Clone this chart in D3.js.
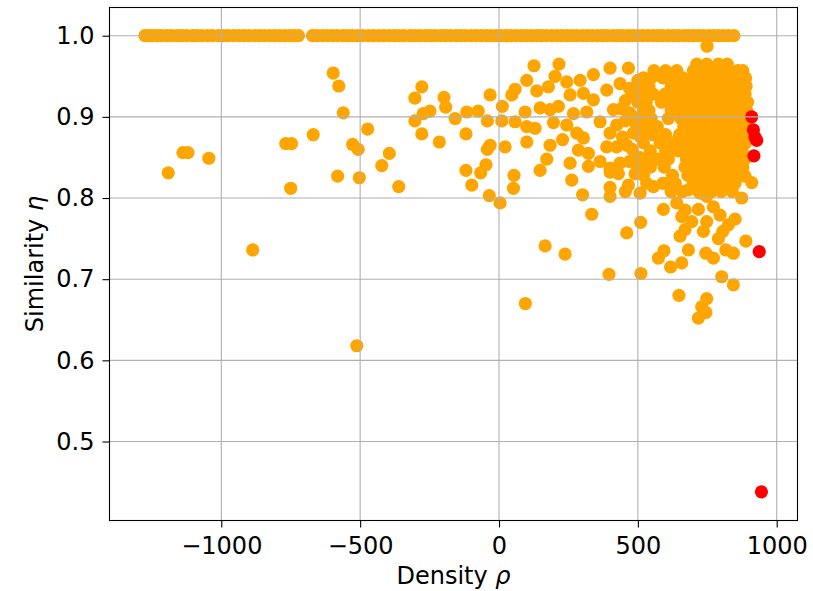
<!DOCTYPE html>
<html>
<head>
<meta charset="utf-8">
<script src="https://cdn.jsdelivr.net/npm/d3@7/dist/d3.min.js"></script>
<style>
  body { margin: 0; background: #fff; }
  text { font-family: "DejaVu Sans", sans-serif; }
</style>
</head>
<body>
<div id="chart"></div>
<script>
// tick values
var xTicks = [-1000, -500, 0, 500, 1000];
var yTicks = [0.5, 0.6, 0.7, 0.8, 0.9, 1.0];

// points sitting exactly on similarity 1.0 (density only)
var topRowRho = [-1275, -1262, -1248, -1230, -1215, -1196, -1180, -1160, -1142, -1125, -1104, -1088,
  -1070, -1050, -1032, -1010, -992, -975, -955, -936, -918, -900, -880, -862, -845, -826, -808, -790,
  -772, -755, -738, -722, -672, -655, -636, -618, -600, -582, -562, -545, -528, -510, -492, -470, -452,
  -432, -415, -396, -378, -360, -342, -320, -302, -285, -266, -248, -230, -210, -192, -175, -155, -138,
  -120, -100, -82, -64, -45, -28, -10, 8, 26, 45, 62, 80, 98, 117, 135, 152, 170, 190, 208, 226, 245,
  262, 280, 300, 318, 336, 355, 372, 390, 410, 428, 446, 465, 482, 500, 518, 536, 555, 572, 590, 610,
  628, 646, 665, 682, 700, 718, 736, 755, 772, 790, 808, 826, 846];

// scattered points [density, similarity]
var orangePts = [
  [-597, 0.954], [-577, 0.938], [-561, 0.905], [-473, 0.885], [-669, 0.878], [-768, 0.867], [-747, 0.867],
  [-527, 0.866], [-507, 0.860], [-395, 0.855], [-422, 0.840], [-1138, 0.856], [-1120, 0.856], [-1045, 0.849],
  [-1191, 0.831], [-581, 0.827], [-503, 0.825], [-750, 0.812], [-361, 0.814], [-887, 0.736], [-512, 0.618],
  [749, 0.987],
  [-278, 0.937], [-303, 0.923], [-198, 0.924], [-192, 0.912], [-249, 0.907], [-273, 0.904], [-303, 0.895],
  [-158, 0.898], [-116, 0.906], [-75, 0.907], [-32, 0.927], [-42, 0.895], [12, 0.913], [10, 0.895],
  [-278, 0.879], [-215, 0.869], [-119, 0.879], [-32, 0.865], [-42, 0.860], [22, 0.863], [-119, 0.834],
  [-47, 0.841], [-66, 0.831], [-98, 0.816], [-35, 0.803], [4, 0.794], [54, 0.828], [52, 0.812],
  [46, 0.927], [58, 0.934], [100, 0.945], [126, 0.963], [216, 0.965], [136, 0.932], [178, 0.937],
  [202, 0.950], [244, 0.943], [292, 0.945], [340, 0.952], [400, 0.960], [466, 0.960], [94, 0.906],
  [58, 0.894], [100, 0.888], [130, 0.886], [100, 0.869], [148, 0.911], [184, 0.909], [214, 0.913],
  [196, 0.893], [244, 0.890], [184, 0.865], [229, 0.872], [172, 0.848], [148, 0.834], [256, 0.843],
  [262, 0.822], [301, 0.804], [334, 0.780], [460, 0.757], [400, 0.813], [400, 0.802], [466, 0.816],
  [322, 0.839], [364, 0.845], [400, 0.837], [436, 0.843], [388, 0.863], [424, 0.863], [460, 0.865],
  [286, 0.859], [322, 0.855], [280, 0.880], [304, 0.874], [268, 0.904], [316, 0.906], [256, 0.927],
  [304, 0.929], [340, 0.921], [364, 0.894], [400, 0.880], [424, 0.890], [412, 0.909], [388, 0.933],
  [436, 0.941], [478, 0.929], [484, 0.900], [484, 0.880],
  [500, 0.945], [470, 0.935], [455, 0.920], [470, 0.905], [445, 0.875], [480, 0.860], [505, 0.850],
  [470, 0.845], [490, 0.830], [430, 0.830], [455, 0.808], [520, 0.885], [495, 0.890], [455, 0.895],
  [440, 0.910], [510, 0.875],
  [166, 0.741], [238, 0.731], [95, 0.670],
  [400, 0.832], [508, 0.806], [592, 0.786], [510, 0.770], [396, 0.706], [511, 0.707], [648, 0.680],
  [574, 0.726], [594, 0.735], [618, 0.715], [658, 0.720], [682, 0.736], [652, 0.753], [670, 0.761],
  [694, 0.771], [658, 0.777], [670, 0.785], [718, 0.786], [748, 0.771], [736, 0.759], [745, 0.732],
  [772, 0.726], [748, 0.676], [730, 0.666], [745, 0.659], [718, 0.652], [802, 0.703], [844, 0.693],
  [817, 0.736], [844, 0.732], [790, 0.750], [806, 0.759], [826, 0.767], [850, 0.774], [796, 0.779],
  [772, 0.789], [889, 0.747], [874, 0.800], [808, 0.812], [910, 0.819], [886, 0.827], [640, 0.794],
  [682, 0.810], [724, 0.806], [748, 0.802], [532, 0.818], [556, 0.814], [604, 0.818], [880, 0.828],
  // dense cluster
  [712, 0.965], [748, 0.965], [790, 0.965], [822, 0.965],
  [558, 0.957], [600, 0.957], [640, 0.957], [700, 0.957], [742, 0.957], [782, 0.957], [820, 0.957], [860, 0.957], [878, 0.957],
  [520, 0.948], [548, 0.948], [590, 0.948], [625, 0.948], [662, 0.948], [700, 0.948], [735, 0.948], [770, 0.948], [805, 0.948], [840, 0.948], [872, 0.948], [888, 0.948],
  [505, 0.938], [540, 0.938], [620, 0.938], [655, 0.938], [690, 0.938], [728, 0.938], [762, 0.938], [800, 0.938], [838, 0.938], [870, 0.938], [890, 0.938],
  [512, 0.928], [555, 0.928], [598, 0.928], [640, 0.928], [676, 0.928], [712, 0.928], [750, 0.928], [786, 0.928], [822, 0.928], [858, 0.928], [886, 0.928],
  [500, 0.918], [530, 0.918], [585, 0.918], [625, 0.918], [660, 0.918], [698, 0.918], [735, 0.918], [772, 0.918], [810, 0.918], [848, 0.918], [884, 0.918], [895, 0.918],
  [520, 0.908], [540, 0.908], [620, 0.908], [650, 0.908], [680, 0.908], [718, 0.908], [755, 0.908], [792, 0.908], [830, 0.908], [868, 0.908], [892, 0.908],
  [510, 0.898], [548, 0.898], [610, 0.898], [655, 0.898], [692, 0.898], [730, 0.898], [768, 0.898], [805, 0.898], [842, 0.898], [880, 0.898], [895, 0.898],
  [530, 0.888], [570, 0.888], [665, 0.888], [700, 0.888], [740, 0.888], [785, 0.888], [822, 0.888], [860, 0.888], [890, 0.888],
  [555, 0.878], [600, 0.878], [650, 0.878], [690, 0.878], [728, 0.878], [765, 0.878], [802, 0.878], [840, 0.878], [878, 0.878], [893, 0.878],
  [520, 0.868], [580, 0.868], [625, 0.868], [665, 0.868], [705, 0.868], [745, 0.868], [782, 0.868], [820, 0.868], [858, 0.868], [888, 0.868],
  [545, 0.858], [600, 0.858], [645, 0.858], [690, 0.858], [725, 0.858], [762, 0.858], [800, 0.858], [838, 0.858], [875, 0.858],
  [525, 0.848], [570, 0.848], [610, 0.848], [675, 0.848], [712, 0.848], [748, 0.848], [788, 0.848], [825, 0.848], [862, 0.848], [885, 0.848],
  [500, 0.838], [545, 0.838], [595, 0.838], [670, 0.838], [700, 0.838], [732, 0.838], [770, 0.838], [808, 0.838], [845, 0.838], [878, 0.838],
  [520, 0.828], [625, 0.828], [680, 0.828], [718, 0.828], [755, 0.828], [792, 0.828], [830, 0.828], [865, 0.828],
  [590, 0.818], [635, 0.818], [700, 0.818], [740, 0.818], [778, 0.818], [815, 0.818], [850, 0.818],
  [620, 0.808], [660, 0.808], [720, 0.808], [765, 0.808], [800, 0.808], [840, 0.808]
];

var redPts = [[910, 0.900], [916, 0.884], [922, 0.875], [928, 0.871], [918, 0.852], [937, 0.734], [945, 0.438]];

var margin = { top: 7.5, left: 109.5 },
    width = 688,
    height = 513;

var svg = d3.select("#chart").append("svg")
    .attr("width", 813)
    .attr("height", 591)
  .append("g")
    .attr("transform", "translate(" + margin.left + "," + margin.top + ")");

var x = d3.scaleLinear().domain([-1402.6, 1074.9]).range([0, width]);
var y = d3.scaleLinear().domain([0.40267, 1.03475]).range([height, 0]);

var allOrange = topRowRho.map(function(r) { return [r, 1.0]; }).concat(orangePts);

svg.append("g").selectAll("circle")
  .data(allOrange)
  .enter().append("circle")
    .attr("cx", function(d) { return x(d[0]); })
    .attr("cy", function(d) { return y(d[1]); })
    .attr("r", 6.6)
    .attr("fill", "#ffa500");

svg.append("g").selectAll("circle")
  .data(redPts)
  .enter().append("circle")
    .attr("cx", function(d) { return x(d[0]); })
    .attr("cy", function(d) { return y(d[1]); })
    .attr("r", 6.6)
    .attr("fill", "#ff0000");

// grid sits above the markers, like matplotlib's default
var grid = svg.append("g").attr("stroke", "#b0b0b0").attr("stroke-width", 1.1);
grid.selectAll(".gx").data(xTicks).enter().append("line")
  .attr("x1", function(d) { return x(d); }).attr("x2", function(d) { return x(d); })
  .attr("y1", 0).attr("y2", height);
grid.selectAll(".gy").data(yTicks).enter().append("line")
  .attr("y1", function(d) { return y(d); }).attr("y2", function(d) { return y(d); })
  .attr("x1", 0).attr("x2", width);

var fmtX = function(d) { return d < 0 ? "\u2212" + Math.abs(d) : String(d); };

var xAxis = svg.append("g")
  .attr("transform", "translate(0," + height + ")")
  .call(d3.axisBottom(x).tickValues(xTicks).tickSize(7).tickPadding(9).tickFormat(fmtX));

var yAxis = svg.append("g")
  .call(d3.axisLeft(y).tickValues(yTicks).tickSize(7).tickPadding(8).tickFormat(d3.format(".1f")));

[xAxis, yAxis].forEach(function(a) {
  a.select(".domain").remove();
  a.selectAll("line").attr("stroke", "#000").attr("stroke-width", 1.1);
  a.selectAll("text").attr("fill", "#000").style("font-size", "24px")
    .style("font-family", "'DejaVu Sans', sans-serif");
});

// frame
svg.append("rect")
  .attr("width", width).attr("height", height)
  .attr("fill", "none").attr("stroke", "#000").attr("stroke-width", 1.1);

// x axis label
var xl = svg.append("text")
  .attr("x", width / 2)
  .attr("y", height + 63.5)
  .style("text-anchor", "middle")
  .style("font-size", "24px");
xl.append("tspan").text("Density ");
xl.append("tspan").style("font-style", "italic").text("\u03c1");

// y axis label
var yl = svg.append("text")
  .attr("transform", "translate(" + (43 - margin.left) + "," + (height / 2) + ") rotate(-90)")
  .style("text-anchor", "middle")
  .style("font-size", "24px");
yl.append("tspan").text("Similarity ");
yl.append("tspan").style("font-style", "italic").text("\u03b7");
</script>
</body>
</html>
